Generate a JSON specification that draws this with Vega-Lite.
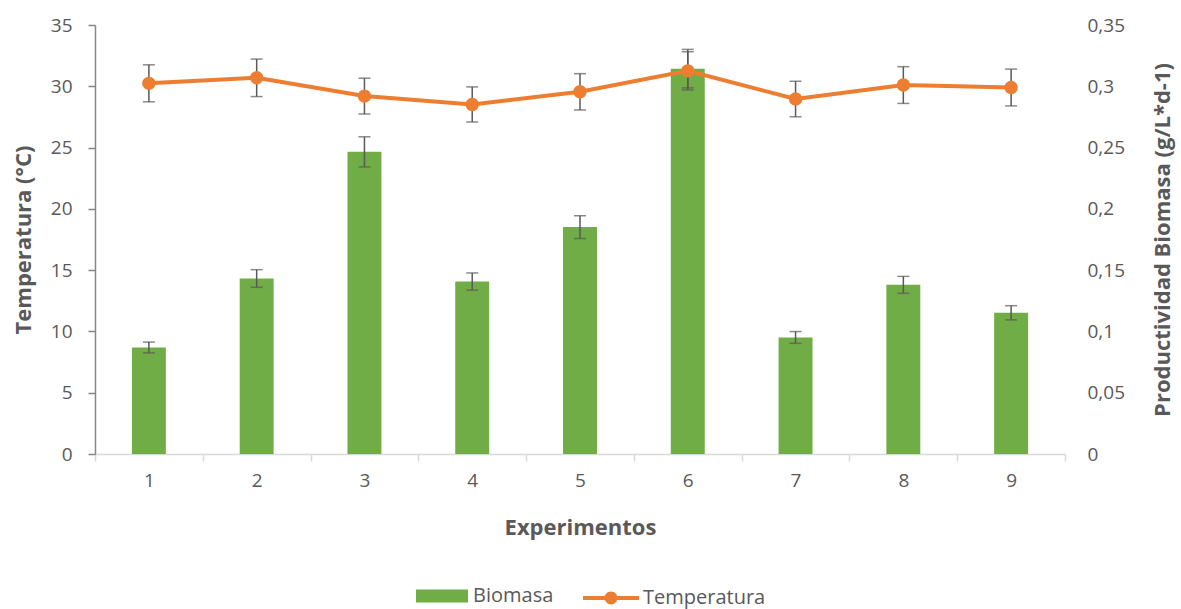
{
  "$schema": "https://vega.github.io/schema/vega-lite/v6.json",
  "width": 970,
  "height": 429,
  "autosize": {"type": "none"},
  "padding": {"left": 95, "top": 25, "right": 116, "bottom": 155},
  "background": "white",
  "config": {
    "font": "Open Sans",
    "view": {"stroke": null},
    "axis": {
      "grid": false,
      "labelColor": "#595959",
      "titleColor": "#595959",
      "labelFontSize": 19,
      "titleFontSize": 22,
      "titleFontWeight": "bold",
      "labelFont": "Open Sans",
      "titleFont": "Open Sans"
    }
  },
  "data": {
    "values": [
      {"exp": "1", "temp": 30.24, "tempErr": 1.51, "prod": 0.0869, "prodErr": 0.0044},
      {"exp": "2", "temp": 30.69, "tempErr": 1.53, "prod": 0.1432, "prodErr": 0.0072},
      {"exp": "3", "temp": 29.2, "tempErr": 1.46, "prod": 0.2465, "prodErr": 0.0123},
      {"exp": "4", "temp": 28.52, "tempErr": 1.43, "prod": 0.1407, "prodErr": 0.007},
      {"exp": "5", "temp": 29.55, "tempErr": 1.48, "prod": 0.1851, "prodErr": 0.0093},
      {"exp": "6", "temp": 31.26, "tempErr": 1.56, "prod": 0.3144, "prodErr": 0.0157},
      {"exp": "7", "temp": 28.96, "tempErr": 1.45, "prod": 0.0951, "prodErr": 0.0048},
      {"exp": "8", "temp": 30.1, "tempErr": 1.5, "prod": 0.138, "prodErr": 0.0069},
      {"exp": "9", "temp": 29.9, "tempErr": 1.5, "prod": 0.1152, "prodErr": 0.0058}
    ]
  },
  "encoding": {
    "x": {
      "field": "exp",
      "type": "ordinal",
      "scale": {"paddingInner": 0, "paddingOuter": 0},
      "axis": {
        "title": "Experimentos",
        "labelAngle": 0,
        "tickBand": "extent",
        "domainColor": "#d9d9d9",
        "tickColor": "#d9d9d9",
        "tickSize": 7,
        "tickWidth": 1.5,
        "domainWidth": 1.5,
        "labelPadding": 10,
        "titlePadding": 27
      }
    }
  },
  "layer": [
    {
      "layer": [
        {
          "mark": {"type": "bar", "width": {"band": 0.315}},
          "encoding": {
            "y": {
              "field": "prod",
              "type": "quantitative",
              "scale": {"domain": [0, 0.35]},
              "axis": {
                "orient": "right",
                "title": "Productividad Biomasa (g/L*d-1)",
                "titleAngle": -90,
                "values": [0, 0.05, 0.1, 0.15, 0.2, 0.25, 0.3, 0.35],
                "labelExpr": "replace(format(datum.value, '.2~f'), '.', ',')",
                "domain": false,
                "ticks": false,
                "labelPadding": 22,
                "titlePadding": 50
              }
            },
            "color": {
              "datum": "Biomasa",
              "scale": {"domain": ["Biomasa"], "range": ["#70AD47"]},
              "legend": {
                "orient": "none",
                "legendX": 321,
                "legendY": 545,
                "title": null,
                "padding": 0,
                "symbolType": "M-1,-0.25H1V0.25H-1Z",
                "symbolSize": 2704,
                "symbolStrokeWidth": 0,
                "labelFontSize": 20,
                "labelFont": "Open Sans",
                "labelColor": "#595959",
                "labelOffset": 5
              }
            }
          }
        },
        {
          "mark": {"type": "errorbar", "ticks": {"size": 12}, "color": "#595959", "thickness": 1.5},
          "encoding": {
            "y": {"field": "prod", "type": "quantitative", "title": "Productividad Biomasa (g/L*d-1)"},
            "yError": {"field": "prodErr"}
          }
        }
      ]
    },
    {
      "layer": [
        {
          "mark": {"type": "line", "color": "#ED7D31", "strokeWidth": 4},
          "encoding": {
            "y": {
              "field": "temp",
              "type": "quantitative",
              "scale": {"domain": [0, 35]},
              "axis": {
                "orient": "left",
                "title": "Temperatura (°C)",
                "values": [0, 5, 10, 15, 20, 25, 30, 35],
                "domainColor": "#868686",
                "domainWidth": 1.5,
                "tickColor": "#868686",
                "tickWidth": 1.5,
                "tickSize": 7,
                "labelPadding": 16,
                "titlePadding": 15
              }
            }
          }
        },
        {
          "mark": {"type": "errorbar", "ticks": {"size": 12}, "color": "#595959", "thickness": 1.5},
          "encoding": {
            "y": {"field": "temp", "type": "quantitative", "title": "Temperatura (°C)"},
            "yError": {"field": "tempErr"}
          }
        },
        {
          "mark": {"type": "point", "filled": true, "size": 180, "opacity": 1},
          "encoding": {
            "y": {"field": "temp", "type": "quantitative", "title": "Temperatura (°C)"},
            "color": {
              "datum": "Temperatura",
              "scale": {"domain": ["Temperatura"], "range": ["#ED7D31"]},
              "legend": {
                "orient": "none",
                "legendX": 488,
                "legendY": 545,
                "title": null,
                "padding": 0,
                "symbolType": "M-1,-0.07H1V0.07H-1Z M-0.23,0A0.23,0.23 0 1,1 0.23,0A0.23,0.23 0 1,1 -0.23,0Z",
                "symbolSize": 3136,
                "symbolStrokeWidth": 0,
                "symbolOpacity": 1,
                "labelFontSize": 20,
                "labelFont": "Open Sans",
                "labelColor": "#595959",
                "labelOffset": 4
              }
            }
          }
        }
      ]
    }
  ],
  "resolve": {"scale": {"y": "independent", "color": "independent"}}
}
